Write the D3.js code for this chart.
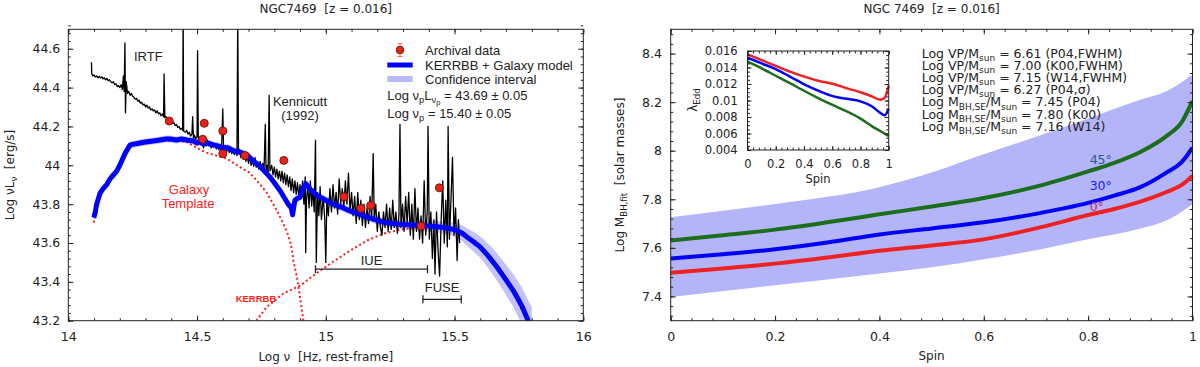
<!DOCTYPE html>
<html>
<head>
<meta charset="utf-8">
<script src="https://cdn.jsdelivr.net/npm/d3@7"></script>
<style>
  body { margin: 0; background: #fff; }
  svg { font-family: "DejaVu Sans", sans-serif; }
</style>
</head>
<body>
<svg id="chart" width="1200" height="367"></svg>
<script>
// ---------- left panel data (log nu, log nuLnu) ----------
var spectrum = [
  [14.090,44.53],[14.091,44.47],[14.095,44.46],[14.100,44.465],[14.105,44.455],[14.110,44.46],[14.115,44.45],[14.120,44.458],
  [14.125,44.45],[14.130,44.455],[14.135,44.445],[14.140,44.45],[14.145,44.44],[14.150,44.447],[14.155,44.435],[14.160,44.44],
  [14.165,44.43],[14.170,44.425],[14.175,44.43],[14.180,44.415],[14.185,44.42],[14.190,44.405],[14.195,44.41],[14.200,44.40],
  [14.205,44.415],[14.210,44.39],[14.214,44.46],[14.217,44.38],[14.220,44.63],[14.222,44.27],[14.225,44.43],[14.230,44.37],
  [14.235,44.38],[14.240,44.36],[14.245,44.37],[14.250,44.355],[14.255,44.35],[14.260,44.34],[14.265,44.345],[14.270,44.33],
  [14.275,44.335],[14.280,44.32],[14.285,44.325],[14.290,44.31],[14.295,44.315],[14.300,44.30],[14.305,44.31],[14.310,44.295],
  [14.315,44.30],[14.320,44.285],[14.325,44.29],[14.330,44.28],[14.335,44.285],[14.340,44.27],[14.345,44.28],[14.350,44.265],
  [14.355,44.27],[14.360,44.255],[14.365,44.265],[14.370,44.25],[14.372,44.47],[14.375,44.245],[14.380,44.25],[14.385,44.235],
  [14.390,44.24],[14.395,44.225],[14.400,44.23],[14.405,44.215],[14.410,44.22],[14.415,44.205],[14.420,44.21],[14.425,44.195],
  [14.430,44.20],[14.435,44.185],[14.440,44.19],[14.444,44.18],[14.446,44.78],[14.448,44.175],[14.455,44.17],[14.460,44.18],
  [14.465,44.16],[14.470,44.17],[14.475,44.15],[14.480,44.16],[14.483,44.25],[14.486,44.14],[14.490,44.155],[14.495,44.135],
  [14.500,44.15],[14.502,44.59],[14.505,44.13],[14.510,44.14],[14.515,44.11],[14.520,44.135],[14.525,44.09],[14.530,44.12],
  [14.535,44.10],[14.540,44.13],[14.545,44.10],[14.550,44.12],[14.555,44.09],[14.560,44.115],[14.565,44.095],[14.570,44.11],
  [14.575,44.085],[14.580,44.105],[14.585,44.08],[14.590,44.10],[14.595,44.075],[14.600,44.29],[14.603,44.08],[14.610,44.10],
  [14.615,44.07],[14.620,44.095],[14.625,44.065],[14.630,44.09],[14.635,44.06],[14.640,44.085],[14.645,44.055],[14.650,44.08],
  [14.655,44.05],[14.658,44.78],[14.661,44.06],[14.665,44.08],[14.670,44.04],[14.675,44.07],[14.680,44.03],[14.685,44.06],
  [14.690,44.02],[14.695,44.05],[14.700,44.01],[14.705,44.04],[14.710,44.00],[14.715,44.03],[14.720,43.995],[14.725,44.04],
  [14.730,43.99],[14.735,44.02],[14.740,43.98],[14.745,44.02],[14.750,43.975],[14.755,44.01],[14.760,43.97],[14.765,44.21],
  [14.768,43.97],[14.772,44.00],[14.776,43.96],[14.780,44.36],[14.783,43.97],[14.790,44.00],[14.795,43.95],[14.800,43.99],
  [14.805,43.94],[14.810,43.98],[14.815,43.93],[14.820,43.97],[14.825,43.92],[14.830,43.97],[14.835,43.91],[14.840,43.96],
  [14.845,43.90],[14.850,43.95],[14.855,43.89],[14.860,43.94],[14.865,43.87],[14.870,43.93],[14.875,43.86],[14.880,43.92],
  [14.885,43.85],[14.890,43.91],[14.895,43.84],[14.900,43.90],[14.905,43.83],[14.910,43.92],[14.915,43.80],[14.920,43.94],
  [14.922,43.55],[14.925,43.82],[14.930,43.90],[14.935,43.78],[14.940,43.92],[14.945,43.79],[14.950,43.88],[14.955,43.76],
  [14.960,44.13],[14.963,43.50],[14.968,43.86],[14.973,43.74],[14.978,43.89],[14.983,43.72],[14.990,43.84],[14.996,43.72],
  [15.000,43.50],[15.004,43.82],[15.010,43.74],[15.016,43.88],[15.022,43.76],[15.028,43.90],[15.034,43.78],[15.040,43.86],
  [15.046,43.75],[15.052,43.93],[15.058,43.80],[15.064,43.88],[15.070,43.78],[15.076,43.92],[15.082,43.80],[15.088,43.96],
  [15.094,43.76],[15.100,43.86],[15.106,43.74],[15.112,43.84],[15.118,43.70],[15.124,43.86],[15.130,43.72],[15.136,43.82],
  [15.142,43.69],[15.148,43.80],[15.154,43.68],[15.160,43.78],[15.166,43.70],[15.172,43.84],[15.178,43.72],[15.184,44.06],
  [15.188,43.72],[15.194,43.80],[15.200,43.66],[15.206,43.76],[15.212,43.68],[15.218,43.64],[15.224,43.76],[15.230,43.68],
  [15.236,43.80],[15.242,43.66],[15.248,43.78],[15.254,43.67],[15.260,43.82],[15.266,43.68],[15.272,43.76],[15.278,43.65],
  [15.284,43.74],[15.288,44.21],[15.292,43.68],[15.298,43.80],[15.304,43.66],[15.310,43.84],[15.316,43.70],[15.322,43.86],
  [15.328,43.64],[15.334,43.80],[15.340,43.62],[15.346,43.88],[15.352,43.66],[15.358,43.78],[15.364,43.62],[15.370,43.74],
  [15.376,43.60],[15.382,43.92],[15.388,43.64],[15.394,43.76],[15.397,44.20],[15.402,43.62],[15.408,43.76],[15.414,43.52],
  [15.420,43.72],[15.424,43.44],[15.430,43.76],[15.436,43.56],[15.442,43.43],[15.448,43.72],[15.454,43.92],[15.460,43.60],
  [15.466,43.82],[15.472,43.58],[15.475,44.20],[15.480,43.62],[15.486,43.82],[15.492,44.04],[15.498,43.64],[15.504,43.78],
  [15.510,43.51],[15.515,43.72],[15.520,43.60]
];

// KERRBB + Galaxy model and its confidence half-width
var model = [
  [14.099,43.73],[14.105,43.76],[14.110,43.80],[14.123,43.855],[14.135,43.88],[14.149,43.90],[14.162,43.93],[14.175,43.95],
  [14.188,43.97],[14.200,44.00],[14.220,44.06],[14.240,44.105],[14.260,44.11],[14.278,44.115],[14.300,44.12],[14.330,44.125],
  [14.356,44.13],[14.380,44.135],[14.395,44.135],[14.420,44.13],[14.440,44.135],[14.460,44.13],[14.486,44.125],[14.500,44.115],
  [14.510,44.12],[14.524,44.11],[14.540,44.115],[14.563,44.105],[14.580,44.10],[14.600,44.09],[14.620,44.09],[14.641,44.075],
  [14.660,44.07],[14.693,44.055],[14.720,44.02],[14.744,43.995],[14.765,43.965],[14.783,43.94],[14.800,43.91],[14.822,43.87],
  [14.840,43.83],[14.854,43.80],[14.866,43.78],[14.871,43.745],[14.875,43.78],[14.880,43.82],[14.890,43.83],[14.900,43.835],
  [14.913,43.885],[14.923,43.905],[14.940,43.875],[14.965,43.845],[15.000,43.82],[15.029,43.80],[15.060,43.785],[15.094,43.765],
  [15.130,43.748],[15.159,43.735],[15.190,43.72],[15.223,43.708],[15.260,43.70],[15.288,43.697],[15.330,43.693],[15.366,43.69],
  [15.400,43.687],[15.443,43.682],[15.480,43.675],[15.508,43.665],[15.530,43.65],[15.547,43.632],[15.570,43.61],[15.599,43.58],
  [15.630,43.535],[15.664,43.478],[15.700,43.41],[15.728,43.355],[15.760,43.28],[15.786,43.20],[15.800,43.16]
];
var modelErr = [
  0.018,0.018,0.018,0.018,0.018,0.018,0.018,0.018,0.018,0.018,0.018,0.018,0.018,0.018,0.018,0.018,
  0.018,0.018,0.018,0.018,0.018,0.018,0.018,0.018,0.018,0.018,0.018,0.018,0.018,0.018,0.018,0.018,
  0.018,0.018,0.018,0.018,0.018,0.018,0.018,0.018,0.018,0.018,0.018,0.018,0.018,0.018,0.018,0.018,
  0.018,0.018,0.018,0.018,0.02,0.02,0.02,0.02,0.02,0.02,0.021,0.022,0.023,0.024,0.025,0.026,
  0.028,0.03,0.033,0.036,0.04,0.045,0.05,0.055,0.062,0.07,0.078,0.085,0.095,0.105,0.11
];

var galaxy = [
  [14.099,43.705],[14.110,43.79],[14.123,43.85],[14.149,43.895],[14.175,43.945],[14.200,43.995],[14.240,44.10],[14.300,44.115],
  [14.360,44.125],[14.420,44.125],[14.460,44.12],[14.498,44.09],[14.537,44.065],[14.575,44.05],[14.615,44.035],[14.667,43.99],
  [14.700,43.965],[14.730,43.925],[14.770,43.86],[14.809,43.77],[14.835,43.70],[14.848,43.66],[14.861,43.61],[14.868,43.57],
  [14.874,43.51],[14.887,43.43],[14.900,43.32],[14.913,43.20]
];
var kerrbb = [
  [14.730,43.20],[14.770,43.27],[14.835,43.34],[14.900,43.38],[14.965,43.445],[15.030,43.505],[15.094,43.56],[15.159,43.612],
  [15.223,43.648],[15.288,43.668],[15.350,43.68],[15.400,43.685],[15.450,43.678],[15.500,43.662],[15.550,43.625],[15.600,43.575],
  [15.664,43.47],[15.728,43.35],[15.786,43.19]
];
var archival = [
  [14.392,44.228],[14.528,44.216],[14.522,44.134],[14.600,44.177],[14.600,44.06],[14.686,44.05],
  [14.837,44.025],[15.071,43.838],[15.137,43.778],[15.174,43.793],[15.370,43.687],[15.441,43.884]
];
var iueRange = [14.96, 15.395];
var fuseRange = [15.377, 15.526];

var leftXTicks = [14, 14.5, 15, 15.5, 16];
var leftXLabels = ["14", "14.5", "15", "15.5", "16"];
var leftYTicks = [43.2, 43.4, 43.6, 43.8, 44, 44.2, 44.4, 44.6];
var leftYLabels = ["43.2", "43.4", "43.6", "43.8", "44", "44.2", "44.4", "44.6"];

// ---------- right panel data (spin, log M_BH,fit) ----------
var spin = [0, 0.1, 0.2, 0.3, 0.4, 0.5, 0.6, 0.7, 0.8, 0.85, 0.9, 0.95, 0.98, 1.0];
var mass45 = [7.63, 7.652, 7.675, 7.705, 7.738, 7.77, 7.805, 7.852, 7.915, 7.95, 7.995, 8.06, 8.12, 8.205];
var mass30 = [7.556, 7.574, 7.594, 7.622, 7.655, 7.68, 7.705, 7.74, 7.785, 7.815, 7.85, 7.91, 7.955, 8.013];
var mass0  = [7.497, 7.515, 7.535, 7.56, 7.588, 7.61, 7.635, 7.68, 7.735, 7.76, 7.79, 7.83, 7.86, 7.897];
var bandSpin = [0, 0.2, 0.4, 0.5, 0.6, 0.7, 0.8, 0.9, 0.95, 1.0];
var bandLo = [7.398, 7.446, 7.494, 7.52, 7.553, 7.59, 7.635, 7.68, 7.713, 7.78];
var bandHi = [7.726, 7.781, 7.85, 7.91, 7.985, 8.058, 8.133, 8.21, 8.245, 8.314];

var rightXTicks = [0, 0.2, 0.4, 0.6, 0.8, 1];
var rightXLabels = ["0", "0.2", "0.4", "0.6", "0.8", "1"];
var rightYTicks = [7.4, 7.6, 7.8, 8, 8.2, 8.4];
var rightYLabels = ["7.4", "7.6", "7.8", "8", "8.2", "8.4"];

var massText = [
  [["Log VP/M",0],["sun",1],[" = 6.61 (P04,FWHM)",0]],
  [["Log VP/M",0],["sun",1],[" = 7.00 (K00,FWHM)",0]],
  [["Log VP/M",0],["sun",1],[" = 7.15 (W14,FWHM)",0]],
  [["Log VP/M",0],["sun",1],[" = 6.27 (P04,\u03c3)",0]],
  [["Log M",0],["BH,SE",1],["/M",0],["sun",1],[" = 7.45 (P04)",0]],
  [["Log M",0],["BH,SE",1],["/M",0],["sun",1],[" = 7.80 (K00)",0]],
  [["Log M",0],["BH,SE",1],["/M",0],["sun",1],[" = 7.16 (W14)",0]]
];

// inset: Eddington ratio vs spin
var insetSpin = [0, 0.1, 0.2, 0.3, 0.42, 0.5, 0.61, 0.7, 0.8, 0.88, 0.94, 0.97, 1.0];
var edd0  = [0.0156, 0.0149, 0.0142, 0.0135, 0.0128, 0.0124, 0.0120, 0.0115, 0.0110, 0.0105, 0.0101, 0.0103, 0.0118];
var edd30 = [0.0152, 0.0145, 0.0138, 0.0129, 0.0118, 0.0112, 0.0105, 0.0102, 0.0099, 0.0093, 0.0085, 0.0082, 0.0090];
var edd45 = [0.0147, 0.0139, 0.0130, 0.0121, 0.0110, 0.0103, 0.0094, 0.0087, 0.0078, 0.0069, 0.0063, 0.0060, 0.0057];
var insetXTicks = [0, 0.2, 0.4, 0.6, 0.8, 1];
var insetXLabels = ["0", "0.2", "0.4", "0.6", "0.8", "1"];
var insetYTicks = [0.004, 0.006, 0.008, 0.01, 0.012, 0.014, 0.016];
var insetYLabels = ["0.004", "0.006", "0.008", "0.01", "0.012", "0.014", "0.016"];

var RED = "#ee2222", BLUE = "#0000ff", GREEN = "#1c6e1c";
var INK = "#222";

var svg = d3.select("#chart");

// text with sub / sub-sub levels
function rich(sel, parts, fs) {
  var cur = 0;
  parts.forEach(function (p) {
    var lvl = p[1] || 0;
    var off = [0, 0.26, 0.44][lvl] * fs;
    sel.append("tspan")
      .attr("dy", off - cur)
      .attr("font-size", [1, 0.72, 0.58][lvl] * fs)
      .text(p[0]);
    cur = off;
  });
  return sel;
}

// box + inward ticks on four sides
function frame(g, x, y, o) {
  var xr = x.range(), yr = y.range();
  var sides = [
    [d3.axisBottom, "translate(0," + yr[0] + ")", x, o.xMajor, o.xMinor, o.xLabels, o.padX],
    [d3.axisTop, "translate(0," + yr[1] + ")", x, o.xMajor, o.xMinor, null, 0],
    [d3.axisLeft, "translate(" + xr[0] + ",0)", y, o.yMajor, o.yMinor, o.yLabels, o.padY],
    [d3.axisRight, "translate(" + xr[1] + ",0)", y, o.yMajor, o.yMinor, null, 0]
  ];
  sides.forEach(function (s) {
    g.append("g").attr("transform", s[1]).attr("color", INK)
      .call(s[0](s[2]).tickValues(s[4]).tickSize(-o.minorLen).tickFormat(""))
      .call(function (a) { a.select(".domain").remove(); });
    var labels = s[5];
    g.append("g").attr("transform", s[1]).attr("color", INK)
      .call(s[0](s[2]).tickValues(s[3]).tickSize(-o.majorLen).tickPadding(s[6])
        .tickFormat(function (d, i) { return labels ? labels[i] : ""; }))
      .call(function (a) { a.select(".domain").remove(); })
      .attr("font-family", "DejaVu Sans").attr("font-size", o.fs);
  });
  g.append("rect")
    .attr("x", xr[0]).attr("y", yr[1])
    .attr("width", xr[1] - xr[0]).attr("height", yr[0] - yr[1])
    .attr("fill", "none").attr("stroke", INK).attr("stroke-width", 1);
}

function steps(a, b, n) {
  return d3.range(n + 1).map(function (i) { return a + (b - a) * i / n; });
}

// ================= LEFT PANEL =================
var xL = d3.scaleLinear().domain([14, 16]).range([68.3, 583.3]);
var yL = d3.scaleLinear().domain([43.2, 44.7]).range([320.7, 29.3]);

svg.append("clipPath").attr("id", "clipL").append("rect")
  .attr("x", 68.3).attr("y", 29.3).attr("width", 515).attr("height", 291.4);

var left = svg.append("g");
var plotL = left.append("g").attr("clip-path", "url(#clipL)");

plotL.append("path")
  .datum(model)
  .attr("fill", "#c3c3fa")
  .attr("d", d3.area()
    .x(function (d) { return xL(d[0]); })
    .y0(function (d, i) { return yL(d[1] - modelErr[i]); })
    .y1(function (d, i) { return yL(d[1] + modelErr[i]); }));

var lineL = d3.line().x(function (d) { return xL(d[0]); }).y(function (d) { return yL(d[1]); });

[galaxy, kerrbb].forEach(function (c) {
  plotL.append("path").datum(c)
    .attr("fill", "none").attr("stroke", "#ff1a1a").attr("stroke-width", 2)
    .attr("stroke-dasharray", "2,2.6").attr("d", lineL);
});

plotL.append("path").datum(spectrum)
  .attr("fill", "none").attr("stroke", "#000").attr("stroke-width", 1.3)
  .attr("stroke-linejoin", "round").attr("d", lineL);

plotL.append("path").datum(model)
  .attr("fill", "none").attr("stroke", BLUE).attr("stroke-width", 5)
  .attr("stroke-linejoin", "round").attr("d", lineL);

plotL.selectAll("circle.arch").data(archival).enter().append("circle")
  .attr("class", "arch")
  .attr("cx", function (d) { return xL(d[0]); })
  .attr("cy", function (d) { return yL(d[1]); })
  .attr("r", 4)
  .attr("fill", "#e8231a").attr("stroke", "#7a0c06").attr("stroke-width", 0.9);

frame(left, xL, yL, {
  xMajor: leftXTicks, xLabels: leftXLabels, xMinor: steps(14, 16, 20),
  yMajor: leftYTicks, yLabels: leftYLabels, yMinor: steps(43.2, 44.72, 38),
  majorLen: 5, minorLen: 2.5, fs: 12.5, padX: 11, padY: 8
});

// instrument ranges
[[iueRange, 43.465, "IUE", 265], [fuseRange, 43.31, "FUSE", 291.7]].forEach(function (r) {
  var g = left.append("g").attr("stroke", INK).attr("stroke-width", 1.3);
  var y = yL(r[1]);
  g.append("line").attr("x1", xL(r[0][0])).attr("x2", xL(r[0][1])).attr("y1", y).attr("y2", y);
  g.append("line").attr("x1", xL(r[0][0])).attr("x2", xL(r[0][0])).attr("y1", y - 4).attr("y2", y + 4);
  g.append("line").attr("x1", xL(r[0][1])).attr("x2", xL(r[0][1])).attr("y1", y - 4).attr("y2", y + 4);
  left.append("text")
    .attr("x", (xL(r[0][0]) + xL(r[0][1])) / 2).attr("y", r[3])
    .attr("text-anchor", "middle").attr("font-family", "Liberation Sans").attr("font-size", 13)
    .attr("fill", INK).text(r[2]);
});

var notes = left.append("g").attr("font-family", "Liberation Sans").attr("font-size", 13).attr("text-anchor", "middle");
notes.append("text").attr("x", 148.3).attr("y", 60.7).attr("fill", INK).text("IRTF");
notes.append("text").attr("x", 300).attr("y", 106).attr("fill", INK).text("Kennicutt");
notes.append("text").attr("x", 300).attr("y", 119.5).attr("fill", INK).text("(1992)");
notes.append("text").attr("x", 189).attr("y", 194.3).attr("fill", "#ff2020").text("Galaxy");
notes.append("text").attr("x", 188).attr("y", 207.5).attr("fill", "#ff2020").text("Template");
notes.append("text").attr("x", 256).attr("y", 301.7).attr("fill", "#ff2020")
  .attr("font-size", 9.5).attr("font-weight", "bold").text("KERRBB");

// legend
var leg = left.append("g").attr("font-family", "Liberation Sans").attr("font-size", 13).attr("fill", INK);
leg.append("line").attr("x1", 400).attr("x2", 400).attr("y1", 43.5).attr("y2", 56.5).attr("stroke", "#ff6a6a").attr("stroke-width", 1);
leg.append("line").attr("x1", 397.5).attr("x2", 402.5).attr("y1", 43.5).attr("y2", 43.5).attr("stroke", "#ff6a6a");
leg.append("line").attr("x1", 397.5).attr("x2", 402.5).attr("y1", 56.5).attr("y2", 56.5).attr("stroke", "#ff6a6a");
leg.append("circle").attr("cx", 400).attr("cy", 50).attr("r", 3.8).attr("fill", "#e8231a").attr("stroke", "#7a0c06").attr("stroke-width", 0.9);
leg.append("text").attr("x", 425).attr("y", 54.5).text("Archival data");
leg.append("line").attr("x1", 387.3).attr("x2", 412.7).attr("y1", 65).attr("y2", 65).attr("stroke", BLUE).attr("stroke-width", 5);
leg.append("text").attr("x", 425).attr("y", 69.5).text("KERRBB + Galaxy model");
leg.append("line").attr("x1", 387.3).attr("x2", 412.7).attr("y1", 79).attr("y2", 79).attr("stroke", "#b8b8f6").attr("stroke-width", 6);
leg.append("text").attr("x", 425).attr("y", 83.5).text("Confidence interval");
rich(leg.append("text").attr("x", 387.3).attr("y", 99.5),
  [["Log \u03bd",0],["p",1],["L",0],["\u03bd",1],["p",2],[" = 43.69 \u00b1 0.05",0]], 13);
rich(leg.append("text").attr("x", 387.3).attr("y", 118),
  [["Log \u03bd",0],["p",1],[" = 15.40 \u00b1 0.05",0]], 13);

// titles and axis labels
left.append("text").attr("x", 325.8).attr("y", 13).attr("text-anchor", "middle")
  .attr("font-size", 12).attr("fill", INK).style("white-space", "pre").text("NGC7469  [z = 0.016]");
left.append("text").attr("x", 325.8).attr("y", 361).attr("text-anchor", "middle")
  .attr("font-size", 12).attr("fill", INK).style("white-space", "pre").text("Log \u03bd  [Hz, rest-frame]");
rich(left.append("text").attr("transform", "translate(14,175) rotate(-90)").attr("text-anchor", "middle")
  .attr("fill", INK).style("white-space", "pre"),
  [["Log \u03bdL",0],["\u03bd",1],["  [erg/s]",0]], 12);

// ================= RIGHT PANEL =================
var xR = d3.scaleLinear().domain([0, 1]).range([670.7, 1192.5]);
var yR = d3.scaleLinear().domain([7.3, 8.5]).range([320.7, 29.3]);

svg.append("clipPath").attr("id", "clipR").append("rect")
  .attr("x", 670.7).attr("y", 29.3).attr("width", 521.8).attr("height", 291.4);

var right = svg.append("g");
var plotR = right.append("g").attr("clip-path", "url(#clipR)");

plotR.append("path")
  .datum(bandSpin)
  .attr("fill", "#b4b4f9")
  .attr("d", d3.area().curve(d3.curveMonotoneX)
    .x(function (d) { return xR(d); })
    .y0(function (d, i) { return yR(bandLo[i]); })
    .y1(function (d, i) { return yR(bandHi[i]); }));

var massLine = d3.line().curve(d3.curveMonotoneX)
  .x(function (d, i) { return xR(spin[i]); })
  .y(function (d) { return yR(d); });

[[mass45, GREEN], [mass30, BLUE], [mass0, RED]].forEach(function (c) {
  plotR.append("path").datum(c[0])
    .attr("fill", "none").attr("stroke", c[1]).attr("stroke-width", 4).attr("d", massLine);
});

var angles = [["45\u00b0", 7.947, "#25608a"], ["30\u00b0", 7.84, "#1a1aff"], ["0\u00b0", 7.752, "#c02a6a"]];
right.selectAll("text.ang").data(angles).enter().append("text")
  .attr("class", "ang")
  .attr("x", xR(0.8) + 1.5)
  .attr("y", function (d) { return yR(d[1]); })
  .attr("font-size", 12.5)
  .attr("fill", function (d) { return d[2]; })
  .text(function (d) { return d[0]; });

frame(right, xR, yR, {
  xMajor: rightXTicks, xLabels: rightXLabels, xMinor: steps(0, 1, 25),
  yMajor: rightYTicks, yLabels: rightYLabels, yMinor: steps(7.32, 8.48, 29),
  majorLen: 5, minorLen: 2.5, fs: 12.5, padX: 11, padY: 8.7
});

var mt = right.append("g").attr("font-size", 12.5).attr("fill", INK);
massText.forEach(function (parts, i) {
  rich(mt.append("text").attr("x", 921.7).attr("y", 57.5 + 12.2 * i), parts, 12.5);
});

right.append("text").attr("x", 931.6).attr("y", 13).attr("text-anchor", "middle")
  .attr("font-size", 12).attr("fill", INK).style("white-space", "pre").text("NGC 7469  [z = 0.016]");
right.append("text").attr("x", 931.6).attr("y", 360).attr("text-anchor", "middle")
  .attr("font-size", 12).attr("fill", INK).text("Spin");
rich(right.append("text").attr("transform", "translate(624,175) rotate(-90)").attr("text-anchor", "middle")
  .attr("fill", INK).style("white-space", "pre"),
  [["Log M",0],["BH,fit",1],["  [solar masses]",0]], 12);

// ---------- inset ----------
var xI = d3.scaleLinear().domain([0, 1]).range([747.5, 888.7]);
var yI = d3.scaleLinear().domain([0.004, 0.016]).range([150, 51]);
var inset = right.append("g");
inset.append("rect").attr("x", 747.5).attr("y", 51).attr("width", 141.2).attr("height", 99).attr("fill", "#fff");

var eddLine = d3.line().curve(d3.curveMonotoneX)
  .x(function (d, i) { return xI(insetSpin[i]); })
  .y(function (d) { return yI(d); });
[[edd45, GREEN], [edd30, BLUE], [edd0, RED]].forEach(function (c) {
  inset.append("path").datum(c[0])
    .attr("fill", "none").attr("stroke", c[1]).attr("stroke-width", 2.5).attr("d", eddLine);
});

frame(inset, xI, yI, {
  xMajor: insetXTicks, xLabels: insetXLabels, xMinor: steps(0, 1, 25),
  yMajor: insetYTicks, yLabels: insetYLabels, yMinor: steps(0.004, 0.016, 24),
  majorLen: 4, minorLen: 2.5, fs: 11.5, padX: 9.8, padY: 9.8
});
inset.append("text").attr("x", 818).attr("y", 182.5).attr("text-anchor", "middle")
  .attr("font-size", 11.5).attr("fill", INK).text("Spin");
rich(inset.append("text").attr("transform", "translate(697,100) rotate(-90)").attr("text-anchor", "middle")
  .attr("fill", INK), [["\u03bb",0],["Edd",1]], 12);
</script>
</body>
</html>
